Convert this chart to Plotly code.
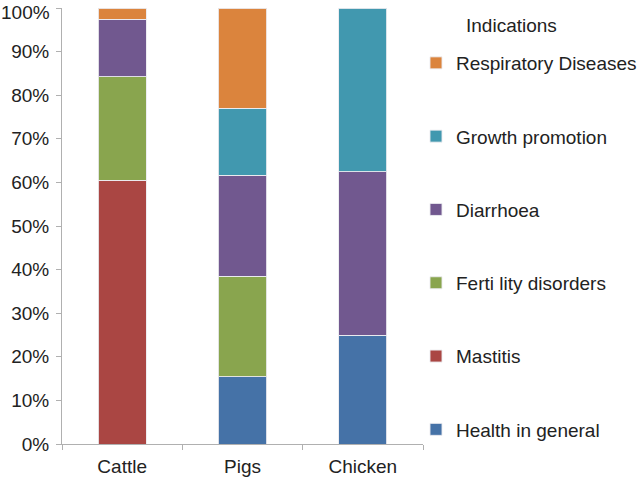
import plotly.graph_objects as go

categories = ["Cattle", "Pigs", "Chicken"]
series_names = ["Health in general", "Mastitis", "Ferti lity disorders",
                "Diarrhoea", "Growth promotion", "Respiratory Diseases"]
health = [None, 15.4, 25.0]
mastitis = [60.5, None, None]
fertility = [23.7, 23.1, None]
diarrhoea = [13.2, 23.1, 37.5]
growth = [None, 15.4, 37.5]
respiratory = [2.6, 23.0, None]
colors = ["#4572A7", "#AA4643", "#89A54E", "#71588F", "#4198AF", "#DB843D"]
y_tick_vals = [0, 10, 20, 30, 40, 50, 60, 70, 80, 90, 100]

series_values = [health, mastitis, fertility, diarrhoea, growth, respiratory]

FONT = "Liberation Sans, Arial, sans-serif"
FS = 19
fig = go.Figure()
n = len(series_names)
for i, (name, vals, col) in enumerate(zip(series_names, series_values, colors)):
    fig.add_trace(go.Bar(
        x=categories,
        y=[v / 100 if v is not None else None for v in vals],
        name=name,
        legendgroup=name,
        legendrank=n - i,
        marker=dict(color=col, line=dict(color="rgba(235,235,240,0.9)", width=1)),
    ))

tickvals = [v / 100 for v in y_tick_vals]
ticktext = [f"{v}%" if v < 100 else "" for v in y_tick_vals]

fig.update_layout(
    width=641, height=479,
    barmode="stack",
    bargap=0.6,
    margin=dict(l=62, r=218, t=8, b=35, autoexpand=False),
    paper_bgcolor="white", plot_bgcolor="white",
    font=dict(family=FONT, size=FS, color="#222"),
    showlegend=True,
    legend=dict(
        traceorder="grouped",
        tracegroupgap=45.6,
        xref="container", x=416 / 641, xanchor="left",
        yref="container", y=1 - 44 / 479, yanchor="top",
        maxheight=900,
        font=dict(family=FONT, size=FS, color="#222"),
        bgcolor="rgba(0,0,0,0)",
        itemclick=False,
    ),
    annotations=[
        dict(
            text="Indications", xref="paper", yref="paper",
            x=(464 - 62) / 361, y=1 - (25 - 8) / 436,
            xanchor="left", yanchor="middle", showarrow=False,
            font=dict(family=FONT, size=FS, color="#222"),
        ),
        dict(
            text=f"{y_tick_vals[-1]}%", xref="paper", yref="y",
            x=0, y=y_tick_vals[-1] / 100, xshift=-10, yshift=-4,
            xanchor="right", yanchor="middle", showarrow=False,
            font=dict(family=FONT, size=FS, color="#222"),
        ),
    ],
)
fig.update_xaxes(
    showline=True, linecolor="#b0b0b0", linewidth=1,
    ticks="outside", tickson="boundaries", ticklen=5, tickcolor="#b0b0b0",
    ticklabelstandoff=5,
    showgrid=False,
)
fig.update_yaxes(
    range=[0, 1], tickvals=tickvals, ticktext=ticktext,
    showline=True, linecolor="#b0b0b0", linewidth=1,
    ticks="outside", ticklen=5, tickcolor="#b0b0b0",
    ticklabelstandoff=3, ticklabeloverflow="allow",
    showgrid=False, zeroline=False,
)
fig.write_html("out.html", config={"displayModeBar": False},
               post_script="document.body.style.margin='0';")
